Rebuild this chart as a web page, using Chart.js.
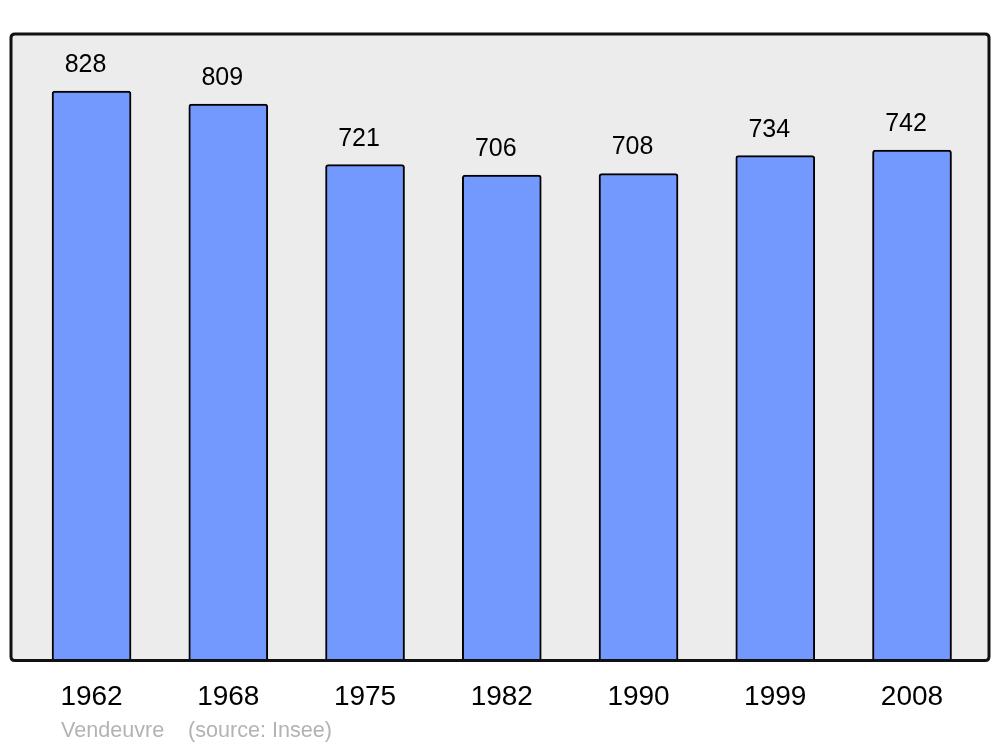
<!DOCTYPE html>
<html>
<head>
<meta charset="utf-8">
<script src="https://cdn.jsdelivr.net/npm/chart.js@4"></script>
<style>
  html, body { margin: 0; padding: 0; background: #fff; }
  #wrap { width: 1000px; height: 747px; }
</style>
</head>
<body>
<div id="wrap"><canvas id="myChart" width="1000" height="747"></canvas></div>
<script>
const years = ['1962', '1968', '1975', '1982', '1990', '1999', '2008'];
const population = [828, 809, 721, 706, 708, 734, 742];
const town = 'Vendeuvre';
const source = '(source: Insee)';

const FONT = '"Liberation Sans", Arial, sans-serif';

function roundRect(ctx, x, y, w, h, r) {
  ctx.beginPath();
  ctx.moveTo(x + r, y);
  ctx.lineTo(x + w - r, y);
  ctx.quadraticCurveTo(x + w, y, x + w, y + r);
  ctx.lineTo(x + w, y + h - r);
  ctx.quadraticCurveTo(x + w, y + h, x + w - r, y + h);
  ctx.lineTo(x + r, y + h);
  ctx.quadraticCurveTo(x, y + h, x, y + h - r);
  ctx.lineTo(x, y + r);
  ctx.quadraticCurveTo(x, y, x + r, y);
  ctx.closePath();
}

// grey plot box, black frame, value labels and footer
const frame = {
  id: 'frame',
  beforeDatasetsDraw(chart) {
    const {ctx, chartArea: a} = chart;
    ctx.save();
    roundRect(ctx, a.left, a.top, a.right - a.left, a.bottom - a.top, 4);
    ctx.fillStyle = '#ececec';
    ctx.fill();
    ctx.restore();
  },
  afterDatasetsDraw(chart) {
    const {ctx, chartArea: a} = chart;
    const xs = chart.scales.x, ys = chart.scales.y;
    ctx.save();
    roundRect(ctx, a.left, a.top, a.right - a.left, a.bottom - a.top, 4);
    ctx.lineWidth = 3;
    ctx.strokeStyle = '#111';
    ctx.stroke();

    ctx.fillStyle = '#000';
    ctx.font = '25px ' + FONT;
    ctx.textAlign = 'center';
    ctx.textBaseline = 'middle';
    population.forEach((v, i) => {
      ctx.fillText(String(v), xs.getPixelForValue(i) - 6, ys.getPixelForValue(v) - 26);
    });

    ctx.fillStyle = '#b3b3b3';
    ctx.font = '21.6px ' + FONT;
    ctx.textAlign = 'left';
    ctx.fillText(town, 61, 731);
    ctx.fillText(source, 188, 731);
    ctx.restore();
  }
};

const ctx = document.getElementById('myChart').getContext('2d');
const myChart = new Chart(ctx, {
  type: 'bar',
  data: {
    datasets: [{
      data: population.map((v, i) => ({x: i, y: v})),
      backgroundColor: '#7399ff',
      borderColor: '#000',
      borderWidth: 2,
      borderRadius: 3,
      barThickness: 79
    }]
  },
  options: {
    responsive: false,
    animation: false,
    layout: { padding: { left: 11, right: 11, top: 34, bottom: 13 } },
    plugins: { legend: { display: false }, tooltip: { enabled: false } },
    scales: {
      x: {
        type: 'linear',
        offset: false,
        min: -0.589,
        max: 6.563,
        afterBuildTicks: axis => { axis.ticks = years.map((_, i) => ({value: i})); },
        grid: { display: false, drawTicks: false },
        border: { display: false },
        ticks: {
          padding: 20,
          color: '#000',
          font: { size: 28, family: FONT },
          maxRotation: 0,
          autoSkip: false,
          callback: (v) => years[v]
        }
      },
      y: {
        display: false,
        min: 0,
        max: 911
      }
    }
  },
  plugins: [frame]
});
</script>
</body>
</html>
